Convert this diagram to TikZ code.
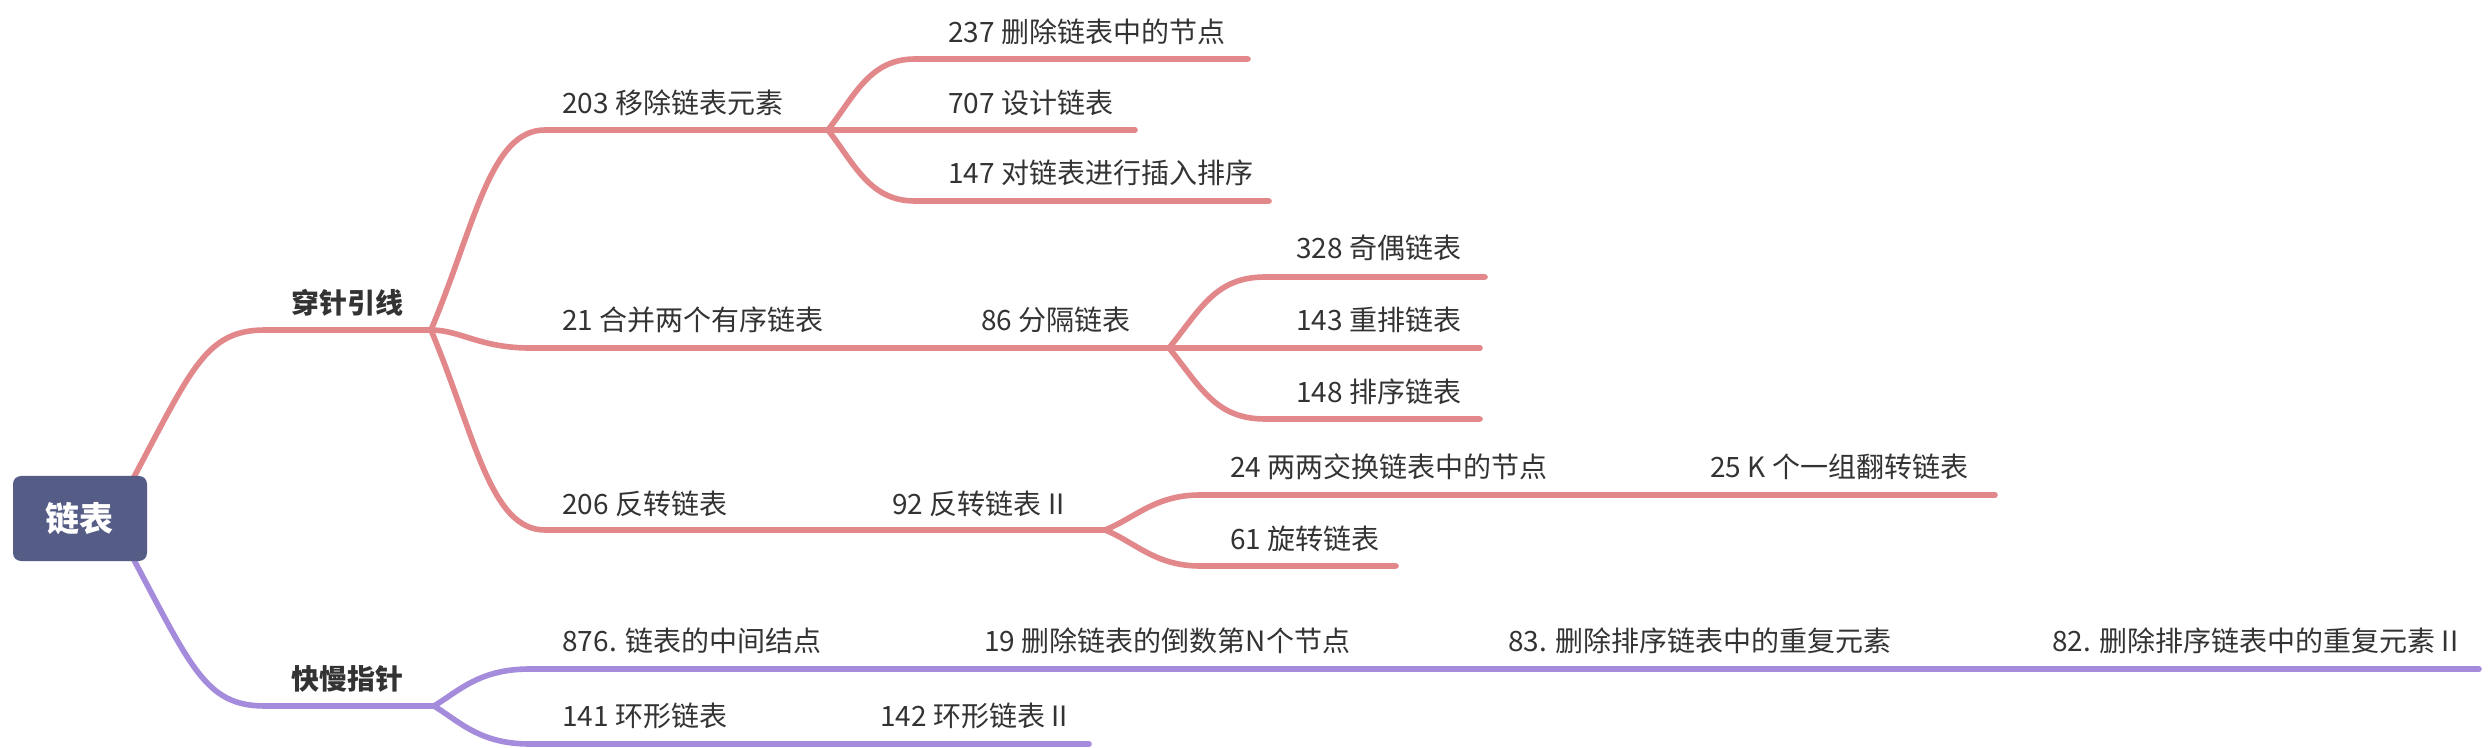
\documentclass[tikz,border=0pt]{standalone}
\usepackage{fontspec}
\setmainfont{Noto Sans CJK SC}
\usetikzlibrary{backgrounds}
\definecolor{pinkline}{HTML}{E2878A}
\definecolor{purpline}{HTML}{A58BDC}
\definecolor{rootfill}{HTML}{555C85}
\definecolor{txt}{HTML}{333333}
\begin{document}
\begin{tikzpicture}[x=0.5pt,y=-0.5pt,
  lbl/.style={anchor=west,inner sep=0pt,text=txt,font=\fontsize{14pt}{16pt}\selectfont},
  mainlbl/.style={anchor=west,inner sep=0pt,text=txt,font=\fontsize{14pt}{16pt}\selectfont\bfseries},
  pk/.style={draw=pinkline,line width=2.8pt,line cap=round},
  pu/.style={draw=purpline,line width=2.8pt,line cap=round},
  rootbox/.style={fill=rootfill,rounded corners=4pt,minimum width=67pt,minimum height=42.5pt,
    text=white,font=\fontsize{17pt}{20pt}\selectfont\bfseries,inner sep=0pt}]
\useasboundingbox (0,0) rectangle (2490,748);
% root
\node[rootbox] (root) at (80,518.5) {链表};
% level 1 labels
\node[mainlbl] (a) at (291,303) {穿针引线};
\node[mainlbl] (b) at (291,679) {快慢指针};
% level 2
\node[lbl] (c1) at (562,103) {203 移除链表元素};
\node[lbl] (c2) at (562,320) {21 合并两个有序链表};
\node[lbl] (c3) at (562,504) {206 反转链表};
\node[lbl] (e1) at (562,641) {876. 链表的中间结点};
\node[lbl] (e2) at (562,716) {141 环形链表};
% level 3
\node[lbl] (d1) at (948,32) {237 删除链表中的节点};
\node[lbl] (d2) at (948,103) {707 设计链表};
\node[lbl] (d3) at (948,173) {147 对链表进行插入排序};
\node[lbl] (c2a) at (981,320) {86 分隔链表};
\node[lbl] (c3a) at (892,504) {92 反转链表 II};
\node[lbl] (e1a) at (984,641) {19 删除链表的倒数第N个节点};
\node[lbl] (e2a) at (880,716) {142 环形链表 II};
% level 4
\node[lbl] (f1) at (1296,248) {328 奇偶链表};
\node[lbl] (f2) at (1296,320) {143 重排链表};
\node[lbl] (f3) at (1296,392) {148 排序链表};
\node[lbl] (g1) at (1230,467) {24 两两交换链表中的节点};
\node[lbl] (g2) at (1230,539) {61 旋转链表};
\node[lbl] (e1b) at (1508,641) {83. 删除排序链表中的重复元素};
% level 5
\node[lbl] (g1a) at (1710,467) {25 K 个一组翻转链表};
\node[lbl] (e1c) at (2052,641) {82. 删除排序链表中的重复元素 II};
% coordinates of underlines
\coordinate (rt) at ([xshift=-9pt,yshift=-5pt]root.north east);
\coordinate (rb) at ([xshift=-9pt,yshift=5pt]root.south east);
\coordinate (a-s) at (265,330);  \coordinate (a-e) at (431,330);
\coordinate (b-s) at (265,706);  \coordinate (b-e) at (434,706);
\coordinate (c1-s) at (545,130); \coordinate (c1-e) at (828,130);
\coordinate (c2-s) at (530,348); \coordinate (c2-e) at (950,348);
\coordinate (c2a-e) at (1169,348);
\coordinate (c3-s) at (545,530); \coordinate (c3-e) at (860,530);
\coordinate (c3a-e) at (1105,530);
\coordinate (d1-s) at (915,59);  \coordinate (d1-e) at (1248,59);
\coordinate (d2-e) at (1135,130);
\coordinate (d3-s) at (915,201); \coordinate (d3-e) at (1269,201);
\coordinate (f1-s) at (1265,277); \coordinate (f1-e) at (1485,277);
\coordinate (f2-e) at (1480,348);
\coordinate (f3-s) at (1265,419); \coordinate (f3-e) at (1480,419);
\coordinate (g1-s) at (1200,495); \coordinate (g1-e) at (1680,495);
\coordinate (g1a-e) at (1995,495);
\coordinate (g2-s) at (1200,566); \coordinate (g2-e) at (1396,566);
\coordinate (e1-s) at (530,669); \coordinate (e1-e) at (955,669);
\coordinate (e1a-e) at (1475,669);
\coordinate (e1b-e) at (2020,669);
\coordinate (e1c-e) at (2479,669);
\coordinate (e2-s) at (530,744); \coordinate (e2-e) at (850,744);
\coordinate (e2a-e) at (1089,744);
\begin{scope}[on background layer]
\fill[white] (0,0) rectangle (2490,748);
% root to level 1
\draw[pk] (rt) .. controls +(62,-116) and +(-60,0) .. (a-s) -- (a-e);
\draw[pu] (rb) .. controls +(62,116) and +(-60,0) .. (b-s) -- (b-e);
% 穿针引线 children
\draw[pk] (a-e) .. controls +(44,-105) and +(-55,0) .. (c1-s) -- (c1-e);
\draw[pk] (a-e) .. controls +(29,0) and +(-50,0) .. (c2-s) -- (c2-e);
\draw[pk] (a-e) .. controls +(44,105) and +(-55,0) .. (c3-s) -- (c3-e);
\draw[pk] (c2-e) -- (c2a-e);
\draw[pk] (c3-e) -- (c3a-e);
% 203 children
\draw[pk] (c1-e) .. controls +(27,-35) and +(-45,0) .. (d1-s) -- (d1-e);
\draw[pk] (c1-e) -- (d2-e);
\draw[pk] (c1-e) .. controls +(27,35) and +(-45,0) .. (d3-s) -- (d3-e);
% 86 children
\draw[pk] (c2a-e) .. controls +(31,-38) and +(-50,0) .. (f1-s) -- (f1-e);
\draw[pk] (c2a-e) -- (f2-e);
\draw[pk] (c2a-e) .. controls +(31,38) and +(-50,0) .. (f3-s) -- (f3-e);
% 92 children
\draw[pk] (c3a-e) .. controls +(30,-12) and +(-45,0) .. (g1-s) -- (g1-e);
\draw[pk] (g1-e) -- (g1a-e);
\draw[pk] (c3a-e) .. controls +(30,12) and +(-45,0) .. (g2-s) -- (g2-e);
% 快慢指针 children
\draw[pu] (b-e) .. controls +(26,-16) and +(-50,0) .. (e1-s) -- (e1-e);
\draw[pu] (e1-e) -- (e1a-e);
\draw[pu] (e1a-e) -- (e1b-e);
\draw[pu] (e1b-e) -- (e1c-e);
\draw[pu] (b-e) .. controls +(26,16) and +(-50,0) .. (e2-s) -- (e2-e);
\draw[pu] (e2-e) -- (e2a-e);
\end{scope}
\end{tikzpicture}
\end{document}
